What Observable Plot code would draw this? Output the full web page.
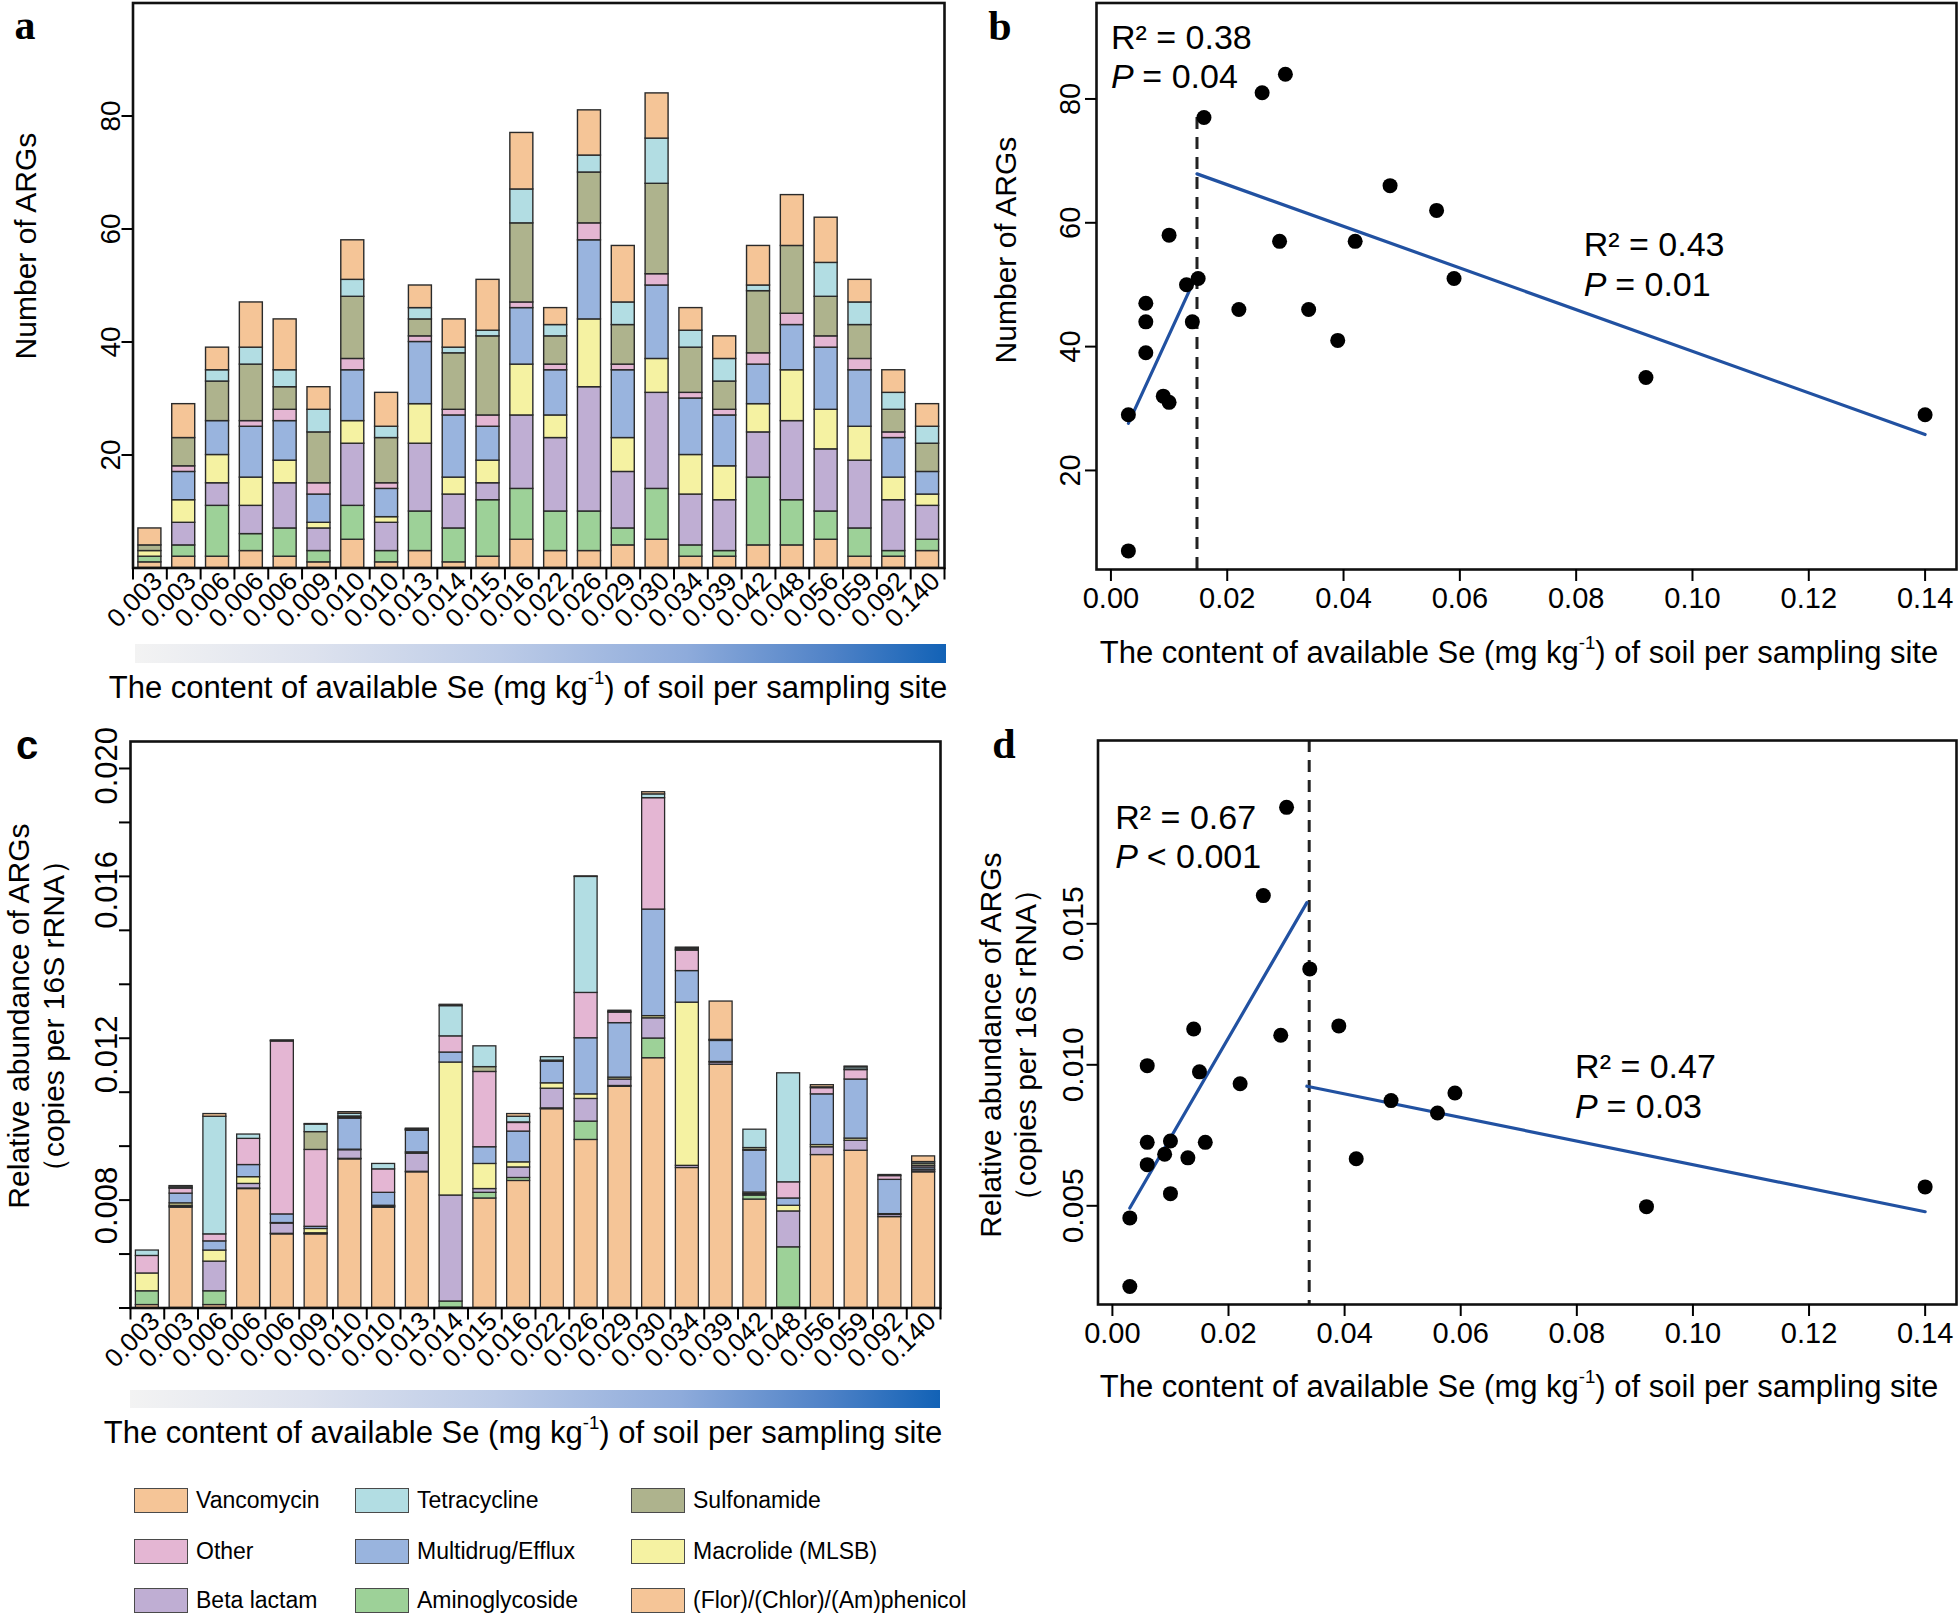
<!DOCTYPE html>
<html><head><meta charset="utf-8">
<script src="https://cdn.jsdelivr.net/npm/d3@7"></script>
<script src="https://cdn.jsdelivr.net/npm/@observablehq/plot@0.6"></script>
<style>
html,body{margin:0;padding:0;background:#fff;}
#fig{position:relative;width:1960px;height:1624px;background:#fff;font-family:"Liberation Sans",Arial,Helvetica,sans-serif;color:#000;overflow:hidden;}
.box{position:absolute;}
.lbl{position:absolute;white-space:nowrap;line-height:1;}
.grad{position:absolute;background:linear-gradient(to right,#f3f3f3 0%,#dde2ee 22%,#bccbe7 45%,#8eabdb 68%,#4f82c7 86%,#1262b6 100%);}
sup{font-size:0.6em;vertical-align:0.7em;line-height:0;}
.leg{position:absolute;display:flex;align-items:center;font-size:23px;white-space:nowrap;}
.leg .sw{width:54px;height:25px;border:1.6px solid #4a4a4a;box-sizing:border-box;margin-right:8px;flex:none;}
</style></head>
<body><div id="fig"></div>
<script>
// ---------------- data ----------------
const siteLabels = ["0.003","0.003","0.006","0.006","0.006","0.009","0.010","0.010","0.013","0.014","0.015","0.016","0.022","0.026","0.029","0.030","0.034","0.039","0.042","0.048","0.056","0.059","0.092","0.140"];
const siteSe = [0.003,0.003,0.006,0.006,0.006,0.009,0.010,0.010,0.013,0.014,0.015,0.016,0.022,0.026,0.029,0.030,0.034,0.039,0.042,0.048,0.056,0.059,0.092,0.140];

// stack order, bottom -> top
const classes = ["(Flor)/(Chlor)/(Am)phenicol","Aminoglycoside","Beta lactam","Macrolide (MLSB)","Multidrug/Efflux","Other","Sulfonamide","Tetracycline","Vancomycin"];
const classColors = ["#f5c597","#9dd198","#bfaed3","#f5f2a2","#99b4de","#e4b6d3","#aeb38d","#b2dde3","#f5c597"];

// panel a: number of ARGs per class
const aPhenicol       = [1,2,2,3,2,1,5,1,3,1,2,5,3,3,4,5,2,2,4,4,5,2,2,3];
const aAminoglycoside = [1,2,9,3,5,2,6,2,7,6,10,9,7,7,3,9,2,1,12,8,5,5,1,2];
const aBetaLactam     = [0,4,4,5,8,4,11,5,12,6,3,13,13,22,10,17,9,9,8,14,11,12,9,6];
const aMacrolide      = [1,4,5,5,4,1,4,1,7,3,4,9,4,12,6,6,7,6,5,9,7,6,4,2];
const aMultidrug      = [0,5,6,9,7,5,9,5,11,11,6,10,8,14,12,13,10,9,7,8,11,10,7,4];
const aOther          = [0,1,0,1,2,2,2,1,1,1,2,1,1,3,1,2,1,1,2,2,2,2,1,0];
const aSulfonamide    = [1,5,7,10,4,9,11,8,3,10,14,14,5,9,7,16,8,5,11,12,7,6,4,5];
const aTetracycline   = [0,0,2,3,3,4,3,2,2,1,1,6,2,3,4,8,3,4,1,0,6,4,3,3];
const aVancomycin     = [3,6,4,8,9,4,7,6,4,5,9,10,3,8,10,8,4,4,7,9,8,4,4,4];

// panel c: relative abundance per class (copies per 16S rRNA)
const cPhenicol       = [0.00011,0.00372,0.00011,0.00441,0.00273,0.00273,0.00551,0.00372,0.00503,0.00001,0.00406,0.00471,0.00737,0.00623,0.00820,0.00926,0.00519,0.00902,0.00402,0.00001,0.00567,0.00583,0.00337,0.00503];
const cAminoglycoside = [0.00051,0.00003,0.00051,0.00002,0.00002,0.00002,0.00002,0.00002,0.00002,0.00023,0.00021,0.00011,0.00003,0.00068,0.00003,0.00073,0,0,0.00015,0.00224,0,0,0,0.00002];
const cBetaLactam     = [0,0.00004,0.00110,0.00017,0.00038,0.00002,0.00032,0.00003,0.00067,0.00393,0.00014,0.00039,0.00073,0.00084,0.00024,0.00075,0.00008,0.00008,0.00005,0.00133,0.00029,0.00037,0.00008,0.00006];
const cMacrolide      = [0.00066,0.00009,0.00041,0.00025,0.00002,0.00016,0.00002,0.00002,0.00005,0.00493,0.00093,0.00019,0.00020,0.00017,0.00007,0.00008,0.00605,0.00002,0.00006,0.00021,0.00008,0.00008,0.00003,0.00002];
const cMultidrug      = [0,0.00036,0.00034,0.00045,0.00032,0.00008,0.00115,0.00048,0.00080,0.00037,0.00062,0.00114,0.00080,0.00208,0.00202,0.00395,0.00117,0.00078,0.00155,0.00027,0.00188,0.00219,0.00127,0.00008];
const cOther          = [0.00065,0.00019,0.00026,0.00097,0.00641,0.00285,0.00003,0.00087,0.00002,0.00060,0.00279,0.00032,0.00002,0.00168,0.00039,0.00413,0.00076,0.00002,0.00002,0.00060,0.00023,0.00035,0.00014,0.00006];
const cSulfonamide    = [0,0.00001,0,0,0.00002,0.00066,0.00005,0,0.00002,0,0.00018,0.00002,0.00002,0,0,0,0.00003,0.00002,0.00008,0,0,0.00002,0,0.00008];
const cTetracycline   = [0.00020,0.00006,0.00436,0.00016,0.00002,0.00028,0.00010,0.00020,0.00002,0.00112,0.00077,0.00021,0.00013,0.00430,0.00003,0.00014,0.00005,0,0.00068,0.00404,0.00003,0.00008,0,0.00006];
const cVancomycin     = [0,0.00002,0.00010,0,0,0.00002,0.00006,0,0.00002,0.00005,0,0.00010,0,0.00002,0.00004,0.00008,0.00003,0.00142,0,0,0.00008,0.00003,0.00004,0.00021];

// panel b: number of ARGs vs Se
const bSe   = [0.003,0.003,0.006,0.006,0.006,0.009,0.010,0.010,0.013,0.014,0.015,0.016,0.022,0.026,0.029,0.030,0.034,0.039,0.042,0.048,0.056,0.059,0.092,0.140];
const bARGs = [7,29,39,47,44,32,58,31,50,44,51,77,46,81,57,84,46,41,57,66,62,51,35,29];
const bFitLowSe = [0.003,0.0148], bFitLowARGs = [27.6,51.7];
const bFitHighSe = [0.0148,0.140], bFitHighARGs = [67.9,25.8];
const bBreakSe = 0.0148, bBreakTop = 77.5;

// panel d: relative abundance vs Se
const dSe = [0.003,0.003,0.006,0.006,0.006,0.009,0.010,0.010,0.013,0.014,0.015,0.016,0.022,0.026,0.029,0.030,0.034,0.039,0.042,0.048,0.056,0.059,0.092,0.140];
const dAbundance = [0.00214,0.00457,0.00725,0.00646,0.00997,0.00683,0.00730,0.00543,0.00670,0.01127,0.00975,0.00725,0.00933,0.01600,0.01105,0.01913,0.01340,0.01138,0.00667,0.00873,0.00829,0.00900,0.00497,0.00567];
const dFitLowSe = [0.003,0.0335], dFitLowAb = [0.00492,0.01575];
const dFitHighSe = [0.0335,0.140], dFitHighAb = [0.00924,0.00479];
const dBreakSe = 0.0339;

// tick values / labels
const aYTicks = [20,40,60,80];
const bYTicks = [20,40,60,80];
const seTicks = [0,0.02,0.04,0.06,0.08,0.10,0.12,0.14];
const cYTicks = [0,0.002,0.004,0.006,0.008,0.010,0.012,0.014,0.016,0.018,0.020];
const cYLabelText = ["0.020","0.016","0.012","0.008"];
const cYLabelAt = [0.0201,0.0155,0.0094,0.0038];
const dYTicks = [0.005,0.010,0.015];

const bStats = [{t:"R² = 0.38", p:" = 0.04", x:0.0, yr:89.8, yp:83.5},{t:"R² = 0.43", p:" = 0.01", x:0.0813, yr:56.4, yp:50.0}];
const dStats = [{t:"R² = 0.67", p:" < 0.001", x:0.0005, yr:0.01876, yp:0.01738},{t:"R² = 0.47", p:" = 0.03", x:0.0797, yr:0.00992, yp:0.00849}];

const legendCols = [["Vancomycin","Other","Beta lactam"],["Tetracycline","Multidrug/Efflux","Aminoglycoside"],["Sulfonamide","Macrolide (MLSB)","(Flor)/(Chlor)/(Am)phenicol"]];

// ---------------- helpers ----------------
const FONT = "'Liberation Sans', Arial, Helvetica, sans-serif";
const fig = document.getElementById("fig");
const barInset = 0.16;
const slots = d3.range(siteLabels.length);
function stackRows(series){
  const rows = [];
  slots.forEach(i => {
    let acc = 0;
    classes.forEach((c,k) => {
      const v = series[k][i];
      rows.push({cls:c, x1:i+barInset, x2:i+1-barInset, y1:acc, y2:acc+v});
      acc += v;
    });
  });
  return rows;
}
function place(el, left, top, w){
  const d = document.createElement("div");
  d.className = "box"; d.style.left = left+"px"; d.style.top = top+"px"; d.style.width = w+"px";
  d.appendChild(el); fig.appendChild(d);
}
function addText(html, cx, cy, o={}){
  const d = document.createElement("div");
  d.className = "lbl"; d.innerHTML = html;
  d.style.left = cx+"px"; d.style.top = cy+"px";
  d.style.fontSize = (o.size||30)+"px";
  if (o.family) d.style.fontFamily = o.family;
  if (o.weight) d.style.fontWeight = o.weight;
  if (o.lh) { d.style.lineHeight = o.lh+"px"; d.style.textAlign = "center"; }
  d.style.transform = `translate(-50%,-50%) rotate(${o.rotate||0}deg)`;
  fig.appendChild(d);
}
const baseStyle = {fontFamily: FONT, background:"transparent", color:"#000", overflow:"visible"};
const frameStroke = {stroke:"#111", strokeWidth:2.6};
const fitBlue = "#2151a1";

// ---------------- panel a ----------------
const aRows = stackRows([aPhenicol,aAminoglycoside,aBetaLactam,aMacrolide,aMultidrug,aOther,aSulfonamide,aTetracycline,aVancomycin]);
const plotA = Plot.plot({
  width:960, height:640, marginLeft:132.5, marginRight:16, marginTop:2.5, marginBottom:72.5,
  style: baseStyle,
  x:{domain:[0,24]}, y:{domain:[0,100]},
  color:{domain:classes, range:classColors},
  marks:[
    Plot.rect(aRows,{x1:"x1",x2:"x2",y1:"y1",y2:"y2",fill:"cls",stroke:"#2a2a2a",strokeWidth:1.4}),
    Plot.frame(frameStroke),
    Plot.axisY(aYTicks,{tickSize:11,tickPadding:2,tickRotate:-90,fontSize:28,strokeWidth:2,label:null}),
    Plot.axisX(d3.range(25),{tickSize:12,tickFormat:()=>"",strokeWidth:2,label:null}),
    Plot.axisX(slots.map(i=>i+0.5),{tickSize:0,tickPadding:9,tickRotate:-45,fontSize:26,dx:8,tickFormat:d=>siteLabels[Math.floor(d)],label:null})
  ]
});
place(plotA, 0, 0, 960);

// ---------------- panel b ----------------
const seDomain = [-0.00248,0.1454];
const bYDomain = [4,95.5];
const bPoints = bSe.map((s,i)=>({se:s, v:bARGs[i]}));
const bLow = bFitLowSe.map((s,i)=>({se:s, v:bFitLowARGs[i]}));
const bHigh = bFitHighSe.map((s,i)=>({se:s, v:bFitHighARGs[i]}));
const plotB = Plot.plot({
  width:980, height:640, marginLeft:116, marginRight:4, marginTop:2.5, marginBottom:71,
  style: baseStyle,
  x:{domain:seDomain}, y:{domain:bYDomain},
  marks:[
    Plot.ruleX([bBreakSe],{y1:bYDomain[0],y2:bBreakTop,stroke:"#222",strokeWidth:3,strokeDasharray:"12,8"}),
    Plot.line(bLow,{x:"se",y:"v",stroke:fitBlue,strokeWidth:3.2}),
    Plot.line(bHigh,{x:"se",y:"v",stroke:fitBlue,strokeWidth:3.2}),
    Plot.dot(bPoints,{x:"se",y:"v",r:7.5,fill:"#000"}),
    Plot.frame(frameStroke),
    Plot.axisX(seTicks,{tickSize:12,tickPadding:6,fontSize:29,tickFormat:d3.format(".2f"),strokeWidth:2,label:null}),
    Plot.axisY(bYTicks,{tickSize:11,tickPadding:6,tickRotate:-90,fontSize:29,strokeWidth:2,label:null}),
    Plot.text(bStats,{x:"x",y:"yr",text:"t",textAnchor:"start",fontSize:34}),
    Plot.text(bStats,{x:"x",y:"yp",text:()=>"P",textAnchor:"start",fontSize:34,fontStyle:"italic"}),
    Plot.text(bStats,{x:"x",y:"yp",text:"p",textAnchor:"start",fontSize:34,dx:22})
  ]
});
place(plotB, 980, 0, 980);

// ---------------- panel c ----------------
const cRows = stackRows([cPhenicol,cAminoglycoside,cBetaLactam,cMacrolide,cMultidrug,cOther,cSulfonamide,cTetracycline,cVancomycin]);
const plotC = Plot.plot({
  width:960, height:680, marginLeft:130, marginRight:20, marginTop:41, marginBottom:72.5,
  style: baseStyle,
  x:{domain:[0,24]}, y:{domain:[0,0.021]},
  color:{domain:classes, range:classColors},
  marks:[
    Plot.rect(cRows,{x1:"x1",x2:"x2",y1:"y1",y2:"y2",fill:"cls",stroke:"#2a2a2a",strokeWidth:1.3}),
    Plot.frame(frameStroke),
    Plot.axisY(cYTicks,{tickSize:11,tickFormat:()=>"",strokeWidth:2,label:null}),
    Plot.text(cYLabelAt,{y:d=>d,text:(d,i)=>cYLabelText[i],frameAnchor:"left",rotate:-90,textAnchor:"middle",lineAnchor:"bottom",dx:-14,fontSize:31}),
    Plot.axisX(d3.range(25),{tickSize:12,tickFormat:()=>"",strokeWidth:2,label:null}),
    Plot.axisX(slots.map(i=>i+0.5),{tickSize:0,tickPadding:9,tickRotate:-45,fontSize:26,dx:8,tickFormat:d=>siteLabels[Math.floor(d)],label:null})
  ]
});
place(plotC, 0, 700, 960);

// ---------------- panel d ----------------
const dYDomain = [0.0015,0.0215];
const dPoints = dSe.map((s,i)=>({se:s, v:dAbundance[i]}));
const dLow = dFitLowSe.map((s,i)=>({se:s, v:dFitLowAb[i]}));
const dHigh = dFitHighSe.map((s,i)=>({se:s, v:dFitHighAb[i]}));
const plotD = Plot.plot({
  width:980, height:680, marginLeft:117.5, marginRight:4, marginTop:40, marginBottom:76,
  style: baseStyle,
  x:{domain:seDomain}, y:{domain:dYDomain},
  marks:[
    Plot.ruleX([dBreakSe],{stroke:"#222",strokeWidth:3,strokeDasharray:"12,8"}),
    Plot.line(dLow,{x:"se",y:"v",stroke:fitBlue,strokeWidth:3.2}),
    Plot.line(dHigh,{x:"se",y:"v",stroke:fitBlue,strokeWidth:3.2}),
    Plot.dot(dPoints,{x:"se",y:"v",r:7.5,fill:"#000"}),
    Plot.frame(frameStroke),
    Plot.axisX(seTicks,{tickSize:12,tickPadding:6,fontSize:29,tickFormat:d3.format(".2f"),strokeWidth:2,label:null}),
    Plot.axisY(dYTicks,{tickSize:11,tickPadding:4,tickRotate:-90,fontSize:30,tickFormat:d3.format(".3f"),strokeWidth:2,label:null}),
    Plot.text(dStats,{x:"x",y:"yr",text:"t",textAnchor:"start",fontSize:34}),
    Plot.text(dStats,{x:"x",y:"yp",text:()=>"P",textAnchor:"start",fontSize:34,fontStyle:"italic"}),
    Plot.text(dStats,{x:"x",y:"yp",text:"p",textAnchor:"start",fontSize:34,dx:22})
  ]
});
place(plotD, 980, 700, 980);

// ---------------- gradients, titles, letters ----------------
function grad(l,t,w,h){const g=document.createElement("div");g.className="grad";g.style.left=l+"px";g.style.top=t+"px";g.style.width=w+"px";g.style.height=h+"px";fig.appendChild(g);}
grad(135,644,811,19);
grad(130,1390,810,18);

const seTitle = "The content of available Se (mg kg<sup>-1</sup>) of soil per sampling site";
addText(seTitle, 528, 687, {size:31});
addText(seTitle, 523, 1432, {size:31});
addText(seTitle, 1519, 652, {size:31});
addText(seTitle, 1519, 1386, {size:31});

addText("Number of ARGs", 26, 246, {size:30, rotate:-90});
addText("Number of ARGs", 1006, 250, {size:30, rotate:-90});
const abTitle = "Relative abundance of ARGs<br>（copies per 16S rRNA）";
addText(abTitle, 36, 1016, {size:30, rotate:-90, lh:35});
addText(abTitle, 1008, 1045, {size:30, rotate:-90, lh:35});

addText("a", 25, 25, {size:42, weight:"bold", family:"'Liberation Serif','Times New Roman',serif"});
addText("b", 1000, 26, {size:42, weight:"bold", family:"'Liberation Serif','Times New Roman',serif"});
addText("c", 27, 745, {size:40, weight:"bold"});
addText("d", 1004, 744, {size:42, weight:"bold", family:"'Liberation Serif','Times New Roman',serif"});

// ---------------- legend ----------------
const legColX = [134,355,631];
const legRowY = [1500,1551,1600];
legendCols.forEach((col,ci)=>col.forEach((name,ri)=>{
  const it = document.createElement("div");
  it.className = "leg";
  it.style.left = legColX[ci]+"px";
  it.style.top = (legRowY[ri]-13)+"px";
  it.style.height = "26px";
  const sw = document.createElement("div");
  sw.className = "sw";
  sw.style.background = classColors[classes.indexOf(name)];
  const tx = document.createElement("span");
  tx.textContent = name;
  it.appendChild(sw); it.appendChild(tx);
  fig.appendChild(it);
}));
</script>
</body></html>
